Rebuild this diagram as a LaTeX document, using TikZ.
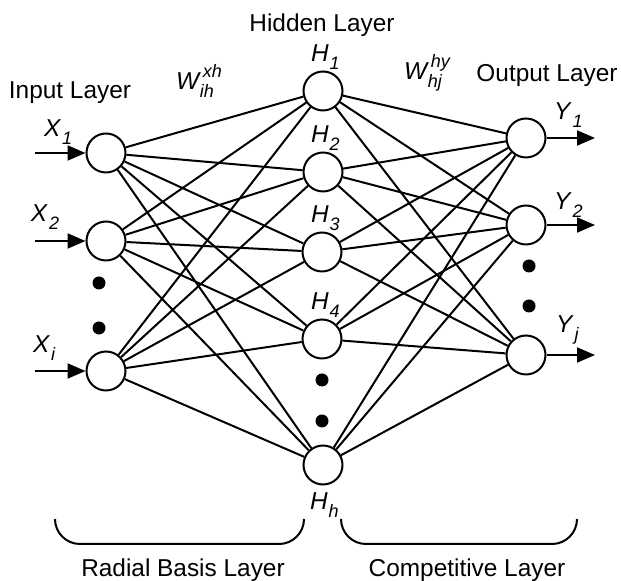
\documentclass[tikz,border=0pt]{standalone}
\usepackage{fontspec}
\setmainfont{Liberation Sans}
\usetikzlibrary{arrows.meta}

\newcommand{\subfont}{\fontsize{9}{10}\selectfont\itshape}
\newcommand{\sym}[2]{\textit{#1}\kern0.5pt\raisebox{-4pt}{\subfont #2}}
\newcommand{\wgt}[3]{\textit{#1}\kern-0.5pt\raisebox{-4pt}{\makebox[0pt][l]{\subfont #2}}\kern1.5pt\raisebox{6pt}{\subfont #3}}

\begin{document}
\begin{tikzpicture}[>={Triangle[length=9pt,width=7.5pt]},x=0.5pt,y=-0.5pt,line width=1pt,
    neuron/.style={circle,draw,fill=white,minimum size=19.5pt,inner sep=0pt},
    blob/.style={circle,fill,minimum size=6.5pt,inner sep=0pt},
    txt/.style={font=\fontsize{12.2}{14}\selectfont,inner sep=0pt}]
    \useasboundingbox (0,0) rectangle (621,581);

    \node[neuron] (x1) at (106,153) {};
    \node[neuron] (x2) at (106,241) {};
    \node[neuron] (xi) at (106,371) {};
    \node[neuron] (h1) at (323,91) {};
    \node[neuron] (h2) at (323,172) {};
    \node[neuron] (h3) at (322,252) {};
    \node[neuron] (h4) at (322,339) {};
    \node[neuron] (hh) at (323,465) {};
    \node[neuron] (y1) at (526,138) {};
    \node[neuron] (y2) at (526,225) {};
    \node[neuron] (yj) at (526,355) {};

    \node[blob] (dx1) at (99,283) {};
    \node[blob] (dx2) at (99,328) {};
    \node[blob] (dh1) at (322,380) {};
    \node[blob] (dh2) at (322,421) {};
    \node[blob] (dy1) at (529,266) {};
    \node[blob] (dy2) at (529,306) {};

    \foreach \i in {x1,x2,xi}
        \foreach \h in {h1,h2,h3,h4,hh}
            \draw (\i) -- (\h);
    \foreach \h in {h1,h2,h3,h4,hh}
        \foreach \o in {y1,y2,yj}
            \draw (\h) -- (\o);

    \coordinate (in1) at (35,153);
    \coordinate (in2) at (35,241);
    \coordinate (ini) at (35,371);
    \coordinate (out1) at (595,138);
    \coordinate (out2) at (595,225);
    \coordinate (outj) at (595,355);
    \draw[->] (in1) -- (x1);
    \draw[->] (in2) -- (x2);
    \draw[->] (ini) -- (xi);
    \draw[->] (y1) -- (out1);
    \draw[->] (y2) -- (out2);
    \draw[->] (yj) -- (outj);

    \node[txt,anchor=base west] (lx1) at (43,137) {\sym{X}{1}};
    \node[txt,anchor=base west] (lx2) at (30,222) {\sym{X}{2}};
    \node[txt,anchor=base west] (lxi) at (32,353) {\sym{X}{i}};
    \node[txt,anchor=base west] (lh1) at (310,62) {\sym{H}{1}};
    \node[txt,anchor=base west] (lh2) at (310,143) {\sym{H}{2}};
    \node[txt,anchor=base west] (lh3) at (310,223) {\sym{H}{3}};
    \node[txt,anchor=base west] (lh4) at (310,310) {\sym{H}{4}};
    \node[txt,anchor=base west] (lhh) at (309,510) {\sym{H}{h}};
    \node[txt,anchor=base west] (ly1) at (553,120) {\sym{Y}{1}};
    \node[txt,anchor=base west] (ly2) at (553,210) {\sym{Y}{2}};
    \node[txt,anchor=base west] (lyj) at (555,333) {\sym{Y}{j}};
    \node[txt,anchor=base west] (wxh) at (175,90) {\wgt{W}{ih}{xh}};
    \node[txt,anchor=base west] (why) at (403,80) {\wgt{W}{hj}{hy}};

    \node[txt,anchor=base] (input) at (70,99) {Input Layer};
    \node[txt,anchor=base] (hidden) at (322,32) {Hidden Layer};
    \node[txt,anchor=base] (output) at (547,82) {Output Layer};

    \draw[rounded corners=12.5pt] (55,519) -- (55,544) -- (304,544) -- (304,519);
    \draw[rounded corners=12.5pt] (341,519) -- (341,544) -- (577,544) -- (577,519);
    \node[txt,anchor=base] (rbl) at (183,577) {Radial Basis Layer};
    \node[txt,anchor=base] (cl) at (467,577) {Competitive Layer};
\end{tikzpicture}
\end{document}
